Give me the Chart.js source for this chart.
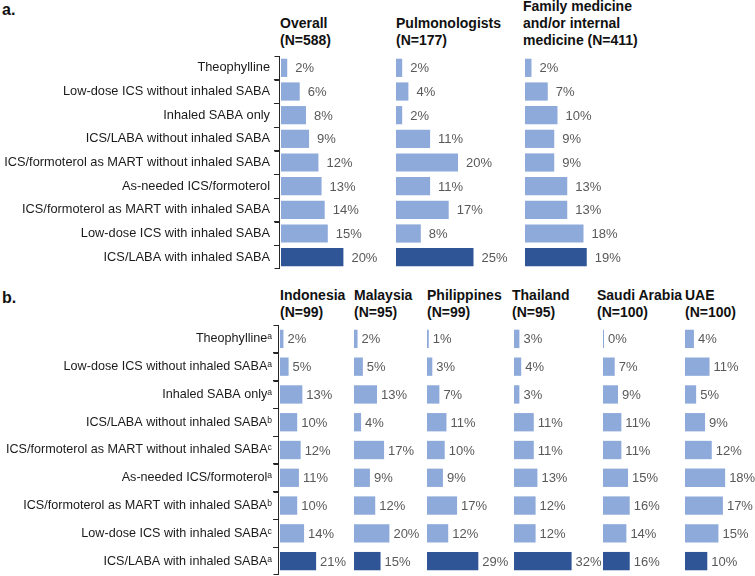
<!DOCTYPE html>
<html>
<head>
<meta charset="utf-8">
<script src="https://cdn.jsdelivr.net/npm/chart.js@4"></script>
<style>
  body { margin: 0; background: #fff; width: 755px; height: 576px; overflow: hidden; position: relative; font-family: "Liberation Sans", Arial, sans-serif; }
  canvas { position: absolute; }
  .hd { position: absolute; font-weight: bold; font-size: 14px; line-height: 17px; color: #111; white-space: nowrap; }
  .pl { position: absolute; font-weight: bold; font-size: 16px; color: #111; }
</style>
</head>
<body>
<div class="pl" style="left:2px;top:1px">a.</div>
<div class="pl" style="left:2px;top:289px">b.</div>

<div class="hd" style="left:280px;top:15px">Overall<br>(N=588)</div>
<div class="hd" style="left:396px;top:15px">Pulmonologists<br>(N=177)</div>
<div class="hd" style="left:523px;top:-2px">Family medicine<br>and/or internal<br>medicine (N=411)</div>

<div class="hd" style="left:280px;top:287px">Indonesia<br>(N=99)</div>
<div class="hd" style="left:354px;top:287px">Malaysia<br>(N=95)</div>
<div class="hd" style="left:427px;top:287px">Philippines<br>(N=99)</div>
<div class="hd" style="left:512px;top:287px">Thailand<br>(N=95)</div>
<div class="hd" style="left:597px;top:287px">Saudi Arabia<br>(N=100)</div>
<div class="hd" style="left:685px;top:287px">UAE<br>(N=100)</div>

<script>
// panel a: by specialty
const categoriesA = [
  'Theophylline',
  'Low-dose ICS without inhaled SABA',
  'Inhaled SABA only',
  'ICS/LABA without inhaled SABA',
  'ICS/formoterol as MART without inhaled SABA',
  'As-needed ICS/formoterol',
  'ICS/formoterol as MART with inhaled SABA',
  'Low-dose ICS with inhaled SABA',
  'ICS/LABA with inhaled SABA'
];
let overall = [2, 6, 8, 9, 12, 13, 14, 15, 20];
let pulmonologists = [2, 4, 2, 11, 20, 11, 17, 8, 25];
let familyMedicine = [2, 7, 10, 9, 9, 13, 13, 18, 19];

// panel b: by country
const categoriesB = [
  'Theophyllineᵃ',
  'Low-dose ICS without inhaled SABAᵃ',
  'Inhaled SABA onlyᵃ',
  'ICS/LABA without inhaled SABAᵇ',
  'ICS/formoterol as MART without inhaled SABAᶜ',
  'As-needed ICS/formoterolᵃ',
  'ICS/formoterol as MART with inhaled SABAᵇ',
  'Low-dose ICS with inhaled SABAᶜ',
  'ICS/LABA with inhaled SABAᵃ'
];
let indonesia = [2, 5, 13, 10, 12, 11, 10, 14, 21];
let malaysia = [2, 5, 13, 4, 17, 9, 12, 20, 15];
let philippines = [1, 3, 7, 11, 10, 9, 17, 12, 29];
let thailand = [3, 4, 3, 11, 11, 13, 12, 12, 32];
let saudiArabia = [0, 7, 9, 11, 11, 15, 16, 14, 16];
let uae = [4, 11, 5, 9, 12, 18, 17, 15, 10];

const LIGHT = '#8eaadb';
const DARK = '#2f5597';
const AXIS = '#262626';

// per-chart plugin: value labels after each bar, and the category axis line with its ticks
function labelPlugin(opt) {
  return {
    id: 'labels' + opt.x,
    afterDraw(chart) {
      const c = chart.ctx;
      const ds = chart.data.datasets[0];
      c.save();
      c.font = '13px "Liberation Sans", Arial, sans-serif';
      c.fillStyle = '#595959';
      c.textAlign = 'left';
      c.textBaseline = 'middle';
      chart.getDatasetMeta(0).data.forEach((bar, i) => {
        c.fillText(ds.data[i] + '%', bar.x + opt.gap, bar.y + 1);
      });
      if (opt.axisW) {
        const ys = chart.scales.y;
        const n = ds.data.length;
        const band = (ys.bottom - ys.top) / n;
        const x = opt.axisW + 0.5;
        c.strokeStyle = AXIS;
        c.lineWidth = 1;
        c.beginPath();
        c.moveTo(x, ys.top);
        c.lineTo(x, ys.bottom);
        for (let k = 0; k <= n; k++) {
          const ty = Math.round(Math.min(ys.top + k * band, ys.bottom - 1)) + 0.5;
          c.moveTo(x - 5, ty);
          c.lineTo(x, ty);
        }
        c.stroke();
      }
      c.restore();
    }
  };
}

function makeChart(opt) {
  const cv = document.createElement('canvas');
  cv.width = opt.w;
  cv.height = opt.h;
  cv.style.left = opt.x + 'px';
  cv.style.top = opt.y + 'px';
  document.body.appendChild(cv);
  const areaW = opt.w - (opt.axisW || 0);
  const lead = opt.lead || 0; // px between axis line and bar start
  const n = opt.data.length;
  new Chart(cv, {
    type: 'bar',
    data: {
      labels: opt.labels,
      datasets: [{
        data: opt.data,
        backgroundColor: opt.data.map((v, i) => i === n - 1 ? DARK : LIGHT),
        borderWidth: 0,
        minBarLength: 1,
        categoryPercentage: 1,
        barPercentage: opt.barPct
      }]
    },
    options: {
      indexAxis: 'y',
      responsive: false,
      animation: false,
      plugins: {
        legend: { display: false },
        tooltip: { enabled: false }
      },
      scales: {
        x: { display: false, min: -lead / opt.pxPer, max: (areaW - lead) / opt.pxPer },
        y: {
          display: !!opt.axisW,
          border: { display: true, color: AXIS, width: 1 },
          grid: { drawOnChartArea: false, drawTicks: true, tickLength: 5, color: AXIS, lineWidth: 1, offset: true },
          ticks: { color: '#1a1a1a', padding: opt.tickPad, font: { size: opt.fontSize || 13, family: '"Liberation Sans", Arial, sans-serif' } },
          afterFit: s => {
            if (opt.axisW) s.width = opt.axisW;
            // keep the plot area the full canvas height, like the charts without an axis
            s.paddingTop = 0;
            s.paddingBottom = 0;
          }
        }
      }
    },
    plugins: [labelPlugin(opt)]
  });
}

// panel a
const topA = 56, hA = 213;
makeChart({ x: 0, y: topA, w: 392, h: hA, axisW: 279, lead: 2, labels: categoriesA, data: overall, pxPer: 3.12, barPct: 0.77, gap: 8, tickPad: 4, fontSize: 12.8 });
makeChart({ x: 396, y: topA, w: 125, h: hA, labels: categoriesA, data: pulmonologists, pxPer: 3.1, barPct: 0.77, gap: 8 });
makeChart({ x: 525, y: topA, w: 125, h: hA, labels: categoriesA, data: familyMedicine, pxPer: 3.25, barPct: 0.77, gap: 8 });

// panel b
const topB = 325, hB = 250;
makeChart({ x: 0, y: topB, w: 352, h: hB, axisW: 278, lead: 2, labels: categoriesB, data: indonesia, pxPer: 1.72, barPct: 0.66, gap: 4, tickPad: 1, fontSize: 12.6 });
makeChart({ x: 354, y: topB, w: 72, h: hB, labels: categoriesB, data: malaysia, pxPer: 1.77, barPct: 0.66, gap: 4 });
makeChart({ x: 427, y: topB, w: 85, h: hB, labels: categoriesB, data: philippines, pxPer: 1.77, barPct: 0.66, gap: 4 });
makeChart({ x: 514, y: topB, w: 88, h: hB, labels: categoriesB, data: thailand, pxPer: 1.8, barPct: 0.66, gap: 4 });
makeChart({ x: 603, y: topB, w: 82, h: hB, labels: categoriesB, data: saudiArabia, pxPer: 1.67, barPct: 0.66, gap: 4 });
makeChart({ x: 685, y: topB, w: 70, h: hB, labels: categoriesB, data: uae, pxPer: 2.23, barPct: 0.66, gap: 4 });
</script>
</body>
</html>
